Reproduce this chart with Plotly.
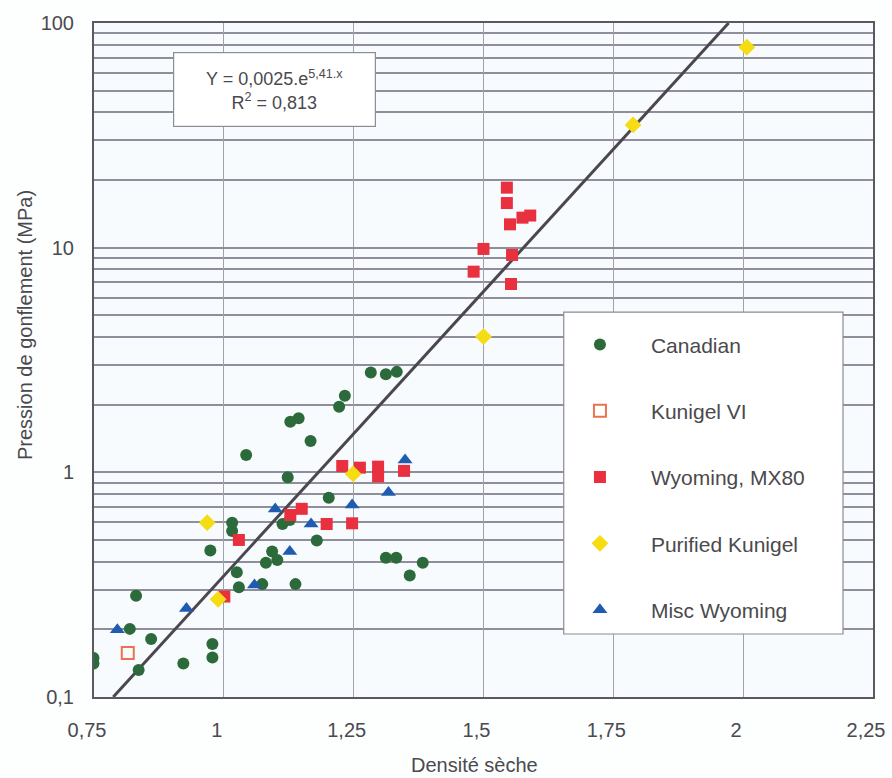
import plotly.graph_objects as go

# ---- data ----
canadian_x = [0.749, 0.749, 0.831, 0.819, 0.860, 0.836, 0.922, 0.978, 0.978, 0.974,
              1.016, 1.016, 1.025, 1.029, 1.043, 1.074, 1.081, 1.093, 1.103, 1.113,
              1.127, 1.123, 1.128, 1.144, 1.167, 1.138, 1.179, 1.202, 1.222, 1.233,
              1.283, 1.312, 1.333, 1.312, 1.332, 1.383, 1.358]
canadian_y = [0.149, 0.141, 0.282, 0.201, 0.181, 0.132, 0.141, 0.172, 0.150, 0.449,
              0.597, 0.548, 0.359, 0.308, 1.195, 0.318, 0.396, 0.444, 0.407, 0.589,
              0.614, 0.951, 1.68, 1.74, 1.38, 0.318, 0.497, 0.771, 1.96, 2.19,
              2.78, 2.73, 2.80, 0.417, 0.417, 0.396, 0.347]

kunigel_vi_x = [0.815]
kunigel_vi_y = [0.157]

wyoming_x = [1.001, 1.029, 1.128, 1.150, 1.198, 1.247, 1.228, 1.262, 1.297, 1.297,
             1.347, 1.545, 1.545, 1.575, 1.590, 1.551, 1.500, 1.555, 1.481, 1.553]
wyoming_y = [0.280, 0.500, 0.646, 0.688, 0.589, 0.593, 1.067, 1.049, 1.06, 0.96,
             1.015, 18.5, 15.8, 13.6, 13.9, 12.7, 9.87, 9.28, 7.82, 6.89]

purified_x = [0.968, 0.989, 1.249, 1.500, 1.788, 2.007]
purified_y = [0.597, 0.272, 0.984, 4.02, 35.2, 78.0]

misc_x = [0.795, 0.928, 1.059, 1.099, 1.127, 1.168, 1.247, 1.317, 1.349]
misc_y = [0.199, 0.248, 0.315, 0.686, 0.444, 0.589, 0.716, 0.813, 1.135]

fit_x = [0.787, 1.972]
fit_y = [0.1, 100.0]

x_tickvals = [0.75, 1.0, 1.25, 1.5, 1.75, 2.0, 2.25]
x_ticktext = ["0,75", "1", "1,25", "1,5", "1,75", "2", "2,25"]
y_tickvals = [0.1, 1, 10, 100]
y_ticktext = ["0,1", "1", "10", "100"]
y_minor = [m * 10 ** e for e in (-1, 0, 1) for m in range(2, 10)]

FONT = "Liberation Sans, Arial, sans-serif"
TXT = "#4a4a4e"
GRID = "#8f8e9a"

fig = go.Figure()

fig.add_trace(go.Scatter(x=fit_x, y=fit_y, mode="lines", showlegend=False,
                         line=dict(color="#4b4650", width=3), hoverinfo="skip"))

fig.add_trace(go.Scatter(x=canadian_x, y=canadian_y, mode="markers", name="Canadian",
                         legendgroup="a",
                         marker=dict(symbol="circle", size=12, color="#2c6a3c")))
fig.add_trace(go.Scatter(x=kunigel_vi_x, y=kunigel_vi_y, mode="markers", name="Kunigel VI",
                         legendgroup="b",
                         marker=dict(symbol="square-open", size=12, color="#e8734e",
                                     line=dict(width=2))))
fig.add_trace(go.Scatter(x=wyoming_x, y=wyoming_y, mode="markers", name="Wyoming, MX80",
                         legendgroup="c",
                         marker=dict(symbol="square", size=12, color="#e8303f")))
fig.add_trace(go.Scatter(x=purified_x, y=purified_y, mode="markers", name="Purified Kunigel",
                         legendgroup="d",
                         marker=dict(symbol="diamond", size=13, color="#f6dc12")))
fig.add_trace(go.Scatter(x=misc_x, y=misc_y, mode="markers", name="Misc Wyoming",
                         legendgroup="e",
                         marker=dict(symbol="triangle-up", size=13, color="#1f5bb0")))

# legend background box
fig.add_shape(type="rect", xref="paper", yref="paper", x0=0.603, x1=0.9615, y0=0.0935, y1=0.571,
              fillcolor="white", line=dict(color="#8c8c94", width=1.2), layer="above")

fig.add_annotation(xref="paper", yref="paper", x=0.232, y=0.9006, xanchor="center", yanchor="middle",
                   text="Y = 0,0025.e<sup>5,41.x</sup><br>R<sup>2</sup> = 0,813",
                   showarrow=False, align="center",
                   font=dict(family=FONT, size=18, color=TXT),
                   bgcolor="white", bordercolor="#8c8c94", borderwidth=1.2, borderpad=4,
                   width=193, height=65)

fig.add_annotation(xref="paper", yref="paper", x=(474 - 94) / 779, y=-(765 - 697) / 674,
                   xanchor="center", yanchor="middle", text="Densité sèche", showarrow=False,
                   font=dict(family=FONT, size=20, color=TXT))
fig.add_annotation(xref="paper", yref="paper", x=-(94 - 25) / 779, y=(697 - 325) / 674,
                   xanchor="center", yanchor="middle", text="Pression de gonflement (MPa)",
                   showarrow=False, textangle=-90,
                   font=dict(family=FONT, size=20, color=TXT))

fig.update_xaxes(range=[0.75, 2.25], tickvals=x_tickvals, ticktext=x_ticktext,
                 showgrid=True, gridcolor="#a3a2ac", gridwidth=1, zeroline=False,
                 showline=True, linecolor="#5a5860", linewidth=2, mirror=True,
                 ticks="", ticklabelstandoff=14, ticklabelshift=-7, automargin=False,
                 tickfont=dict(family=FONT, size=20, color=TXT))
fig.update_yaxes(type="log", range=[-1, 2], tickvals=y_tickvals, ticktext=y_ticktext,
                 showgrid=True, gridcolor=GRID, gridwidth=1.5, zeroline=False,
                 showline=True, linecolor="#5a5860", linewidth=2, mirror=True,
                 ticks="", ticklabelstandoff=14, automargin=False,
                 minor=dict(tickvals=y_minor, showgrid=True, gridcolor=GRID, gridwidth=1.5, ticks=""),
                 tickfont=dict(family=FONT, size=20, color=TXT))

fig.update_layout(
    width=892, height=778,
    margin=dict(l=94, r=19, t=23, b=81),
    paper_bgcolor="#fdfefe", plot_bgcolor="#f8fbfd",
    font=dict(family=FONT, size=20, color=TXT),
    showlegend=True,
    legend=dict(x=0.584, y=0.553, xanchor="left", yanchor="top",
                bgcolor="rgba(0,0,0,0)", borderwidth=0,
                itemwidth=92, tracegroupgap=36, traceorder="grouped",
                font=dict(family=FONT, size=21, color=TXT)),
)

fig.write_html("out.html", config={"displayModeBar": False},
               post_script="document.body.style.margin='0';document.body.style.overflow='hidden';")
